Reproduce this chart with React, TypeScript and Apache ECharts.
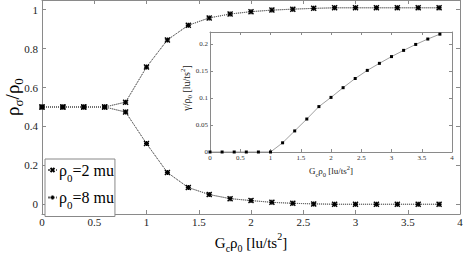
import React, { useEffect, useRef } from 'react';
import * as echarts from 'echarts';

// Gc*rho0 values (lu/ts^2)
const gc = [0, 0.2, 0.4, 0.6, 0.8, 1.0, 1.2, 1.4, 1.6, 1.8, 2.0, 2.2, 2.4, 2.6, 2.8, 3.0, 3.2, 3.4, 3.6, 3.8];
// rho_sigma / rho_0, rho0 = 2 mu
const upper2 = [0.5, 0.5, 0.5, 0.5, 0.525, 0.705, 0.845, 0.92, 0.958, 0.978, 0.99, 0.998, 1.003, 1.007, 1.01, 1.01, 1.01, 1.01, 1.01, 1.01];
const lower2 = [0.5, 0.5, 0.5, 0.5, 0.474, 0.312, 0.163, 0.086, 0.05, 0.029, 0.019, 0.01, 0.005, 0.002, 0, 0, 0, 0, 0, 0];
// rho_sigma / rho_0, rho0 = 8 mu
const upper8 = [0.5, 0.5, 0.5, 0.5, 0.525, 0.705, 0.845, 0.92, 0.958, 0.978, 0.99, 0.998, 1.003, 1.007, 1.01, 1.01, 1.01, 1.01, 1.01, 1.01];
const lower8 = [0.5, 0.5, 0.5, 0.5, 0.474, 0.312, 0.163, 0.086, 0.05, 0.029, 0.019, 0.01, 0.005, 0.002, 0, 0, 0, 0, 0, 0];
// inset: gamma / rho0
const gamma = [0, 0, 0, 0, 0, 0, 0.017, 0.039, 0.061, 0.084, 0.101, 0.119, 0.136, 0.151, 0.164, 0.1765, 0.188, 0.199, 0.209, 0.218];

const mainYTicks = [0, 0.2, 0.4, 0.6, 0.8, 1];
const insetYTicks = [0, 0.05, 0.1, 0.15, 0.2];

const SERIF = 'Liberation Serif';
const AX = '#8a8a8a';
const XPATH = 'path://M0,0L10,10M10,0L0,10';
const PPATH = 'path://M5,0L5,10M0,5L10,5';

const pairs = (ys: number[]) => gc.map((x, i) => [x, ys[i]]);

function axisBase(extra: any) {
  return {
    type: 'value',
    axisLine: { show: true, onZero: false, lineStyle: { color: AX, width: 1 } },
    splitLine: { show: false },
    ...extra,
  };
}

function richLabel(size: number, sub: number, color: string, lh: number) {
  return {
    n: { fontFamily: SERIF, fontSize: size, color, fill: color, lineHeight: lh },
    s: { fontFamily: SERIF, fontSize: sub, color, fill: color, lineHeight: sub, verticalAlign: 'bottom' },
    p: { fontFamily: SERIF, fontSize: sub, color, fill: color, lineHeight: sub, verticalAlign: 'top' },
  };
}

export default function App() {
  const ref = useRef<HTMLDivElement>(null);
  useEffect(() => {
    if (!ref.current) return;
    const chart = echarts.init(ref.current, undefined, { renderer: 'svg' });
    const mainTick = { show: true, inside: true, length: 4, lineStyle: { color: AX } };
    const insetTick = { show: true, inside: true, length: 3, lineStyle: { color: AX } };
    const mainLabel = { fontFamily: SERIF, fontSize: 11, color: '#222', margin: 2 };
    const insetLabel = { fontFamily: SERIF, fontSize: 7, color: '#333', margin: 2 };

    const mainLine = { type: 'dotted', color: '#666', width: 1 };
    const mkMain = (name: string, ys: number[], sym: string) => ({
      name,
      type: 'line',
      xAxisIndex: 0,
      yAxisIndex: 0,
      data: pairs(ys),
      symbol: sym,
      symbolSize: 5,
      showSymbol: true,
      lineStyle: mainLine,
      itemStyle: { color: '#000', borderColor: '#000', borderWidth: 1.4 },
      z: 3,
    });

    const option: any = {
      animation: false,
      backgroundColor: '#fff',
      textStyle: { fontFamily: SERIF },
      grid: [
        { left: 42, right: 3, top: 0, bottom: 39, show: false, containLabel: false, outerBoundsMode: 'none' },
        {
          left: 210, right: 11, top: 32, bottom: 101, show: true, backgroundColor: '#fff', borderWidth: 0, z: 5,
          containLabel: false, outerBoundsMode: 'none',
        },
      ],
      xAxis: [
        axisBase({
          gridIndex: 0, min: 0, max: 4, interval: 0.5, position: 'bottom',
          axisTick: mainTick, axisLabel: mainLabel,
          name: '{n|G}{s|c}{n|ρ}{s|0}{n| [lu/ts}{p|2}{n|]}',
          nameLocation: 'middle', nameGap: 12,
          nameTextStyle: {
            fontFamily: SERIF, fontSize: 15, color: '#000',
            rich: richLabel(15, 10, '#000', 22),
          },
        }),
        axisBase({
          gridIndex: 0, min: 0, max: 4, interval: 0.5, position: 'top',
          axisTick: mainTick, axisLabel: { show: false },
        }),
        axisBase({
          gridIndex: 1, min: 0, max: 4, interval: 0.5, position: 'bottom',
          axisTick: insetTick, axisLabel: insetLabel,
          name: '{n|G}{s|c}{n|ρ}{s|0}{n| [lu/ts}{p|2}{n|]}',
          nameLocation: 'middle', nameGap: 12,
          nameTextStyle: {
            fontFamily: SERIF, fontSize: 9, color: '#222',
            rich: richLabel(9, 6.5, '#222', 14),
          },
          z: 6,
        }),
        axisBase({
          gridIndex: 1, min: 0, max: 4, interval: 0.5, position: 'top',
          axisTick: insetTick, axisLabel: { show: false }, z: 6,
        }),
      ],
      yAxis: [
        axisBase({
          gridIndex: 0, min: -0.05, max: 1.05, position: 'left',
          axisTick: { ...mainTick, customValues: mainYTicks },
          axisLabel: { ...mainLabel, margin: 4, customValues: mainYTicks },
        }),
        axisBase({
          gridIndex: 0, min: -0.05, max: 1.05, position: 'right',
          axisTick: { ...mainTick, customValues: mainYTicks },
          axisLabel: { show: false },
        }),
        axisBase({
          gridIndex: 1, min: 0, max: 0.222, position: 'left',
          axisTick: { ...insetTick, customValues: insetYTicks },
          axisLabel: { ...insetLabel, customValues: insetYTicks },
          z: 6,
        }),
        axisBase({
          gridIndex: 1, min: 0, max: 0.222, position: 'right',
          axisTick: { ...insetTick, customValues: insetYTicks },
          axisLabel: { show: false }, z: 6,
        }),
      ],
      legend: {
        show: true,
        orient: 'vertical',
        left: 45,
        top: 159,
        padding: [3, 1, 6, 2],
        itemGap: 6.5,
        itemWidth: 9,
        itemHeight: 5,
        borderColor: '#888',
        borderWidth: 1,
        backgroundColor: '#fff',
        data: [{ name: 'rho2' }, { name: 'rho8' }],
        formatter: (name: string) =>
          name === 'rho2' ? '{a|ρ}{s|0}{a|=2 mu}' : '{a|ρ}{s|0}{a|=8 mu}',
        textStyle: {
          fontFamily: SERIF, fontSize: 16, color: '#000', padding: [0, 0, 0, -3],
          rich: {
            a: { fontFamily: SERIF, fontSize: 16, color: '#000', lineHeight: 20 },
            s: { fontFamily: SERIF, fontSize: 11, color: '#000', lineHeight: 8, verticalAlign: 'bottom', padding: [0, 0, -3, 0] },
          },
        },
        z: 10,
      },
      graphic: [
        {
          type: 'text',
          x: 12,
          y: 97,
          rotation: Math.PI / 2,
          style: {
            text: '{n|ρ}{s|σ}{n|/ρ}{s|0}',
            align: 'center',
            verticalAlign: 'middle',
            fontFamily: SERIF,
            fontSize: 19,
            fill: '#000',
            rich: {
              n: { fontFamily: SERIF, fontSize: 19, fill: '#000', lineHeight: 26 },
              s: { fontFamily: SERIF, fontSize: 13, fill: '#000', lineHeight: 13, verticalAlign: 'bottom' },
            },
          },
          z: 10,
        },
        {
          type: 'text',
          x: 186.5,
          y: 88,
          rotation: Math.PI / 2,
          style: {
            text: '{n|γ/ρ}{s|0}{n| [lu/ts}{p|2}{n|]}',
            align: 'center',
            verticalAlign: 'middle',
            fontFamily: SERIF,
            fontSize: 10,
            fill: '#222',
            rich: richLabel(10, 7, '#222', 14),
          },
          z: 10,
        },
      ],
      series: [
        mkMain('rho2', upper2, XPATH),
        mkMain('rho2', lower2, XPATH),
        mkMain('rho8', upper8, PPATH),
        mkMain('rho8', lower8, PPATH),
        {
          name: 'gamma',
          type: 'line',
          xAxisIndex: 2,
          yAxisIndex: 2,
          data: pairs(gamma),
          symbol: 'rect',
          symbolSize: 3,
          lineStyle: { color: '#888', width: 0.8 },
          itemStyle: { color: '#000' },
          z: 7,
        },
      ],
    };
    chart.setOption(option);
    return () => chart.dispose();
  }, []);
  return (
    <div
      ref={ref}
      style={{ position: 'fixed', left: 0, top: 0, width: 463, height: 253, background: '#fff' }}
    />
  );
}
